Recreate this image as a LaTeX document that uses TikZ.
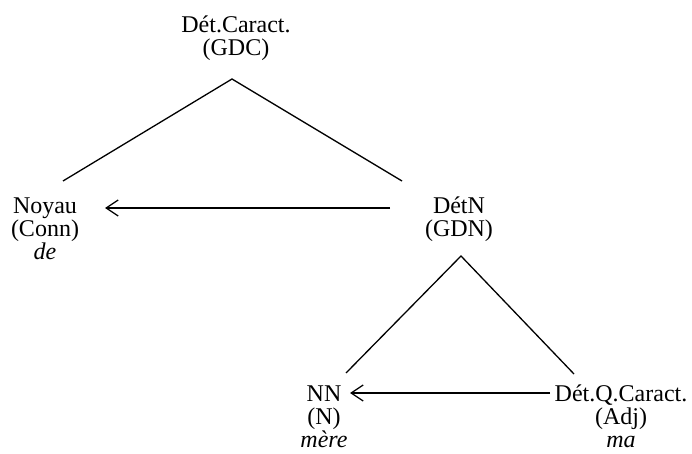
\documentclass[tikz,border=0pt]{standalone}
\usepackage{fontspec}
\setmainfont{Liberation Serif}
\usetikzlibrary{arrows.meta}
\begin{document}
\begin{tikzpicture}[x=1pt,y=-1pt,
  lbl/.style={align=center,inner sep=0pt,anchor=base,font=\fontsize{24}{23}\selectfont},
  edge/.style={line width=1.3pt},
  arr/.style={line width=1.3pt,-{Straight Barb[length=12pt,width=16pt,line width=1.3pt]}}]
\useasboundingbox (0,0) rectangle (692,454);
\node[lbl] (gdc) at (236,56) {Dét.Caract.\\(GDC)};
\node[lbl] (noy) at (45,259) {Noyau\\(Conn)\\\textit{de}};
\node[lbl] (gdn) at (459,236) {DétN\\(GDN)};
\node[lbl] (nn) at (324,447) {NN\\(N)\\\textit{mère}};
\node[lbl] (dqc) at (621,447) {Dét.Q.Caract.\\(Adj)\\\textit{ma}};
\coordinate (a1) at (232,79);
\coordinate (l1) at (63,181);
\coordinate (r1) at (402,181);
\coordinate (a2) at (461,256);
\coordinate (l2) at (346,373);
\coordinate (r2) at (574,374);
\coordinate (s1) at (390,208);
\coordinate (e1) at (105,208);
\coordinate (s2) at (550,393);
\coordinate (e2) at (350,393);
\draw[edge] (l1) -- (a1) -- (r1);
\draw[edge] (l2) -- (a2) -- (r2);
\draw[arr] (s1) -- (e1);
\draw[arr] (s2) -- (e2);
\end{tikzpicture}
\end{document}
